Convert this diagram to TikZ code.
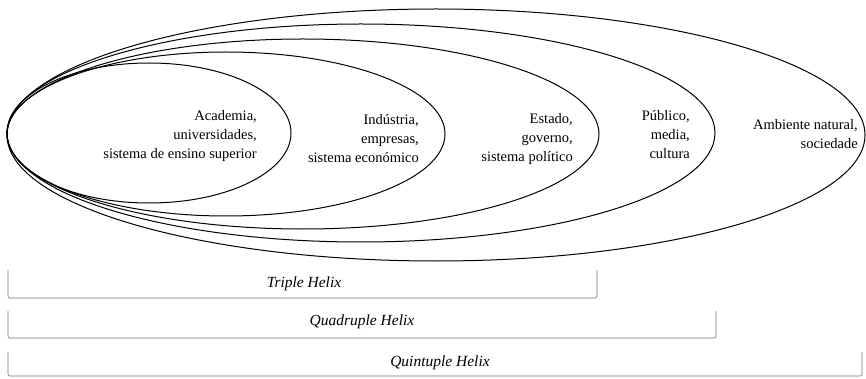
\documentclass[tikz,border=0pt]{standalone}
\usepackage{fontspec}
\setmainfont{Liberation Serif}
\usepackage{tikz}

\begin{document}
\begin{tikzpicture}[x=1pt, y=-1pt,
    elipse/.style={line width=1pt, black},
    rotulo/.style={anchor=east, align=right, inner sep=0pt, font=\fontsize{14.5}{19}\selectfont},
    chave/.style={line width=0.6pt, black!55, rounded corners=2pt},
    helice/.style={inner sep=0pt, font=\fontsize{15.5}{18}\selectfont\itshape}]
    \useasboundingbox (0,0) rectangle (866,379);

    % Ellissi annidate
    \draw[elipse] (436,135) ellipse [x radius=429pt, y radius=126pt];
    \draw[elipse] (361,133) ellipse [x radius=354pt, y radius=109pt];
    \draw[elipse] (303,134) ellipse [x radius=296pt, y radius=95pt];
    \draw[elipse] (226,134) ellipse [x radius=219pt, y radius=82pt];
    \draw[elipse] (149,133) ellipse [x radius=142pt, y radius=70pt];

    % Testi delle ellissi
    \node[rotulo] (academia) at (257,136) {Academia,\\universidades,\\sistema de ensino superior};
    \node[rotulo] (industria) at (419,139) {Indústria,\\empresas,\\sistema económico};
    \node[rotulo] (estado) at (573,139) {Estado,\\governo,\\sistema político};
    \node[rotulo] (publico) at (690,135) {Público,\\media,\\cultura};
    \node[rotulo] (ambiente) at (858,134) {Ambiente natural,\\sociedade};

    % Parentesi sotto
    \draw[chave] (8,270) -- (8,298) -- (597,298) -- (597,270);
    \node[helice] (triple) at (304,284) {Triple Helix};
    \draw[chave] (8,311) -- (8,338) -- (716,338) -- (716,311);
    \node[helice] (quadruple) at (362,322) {Quadruple Helix};
    \draw[chave] (8,352) -- (8,376) -- (862,376) -- (862,352);
    \node[helice] (quintuple) at (440,363) {Quintuple Helix};
\end{tikzpicture}
\end{document}
